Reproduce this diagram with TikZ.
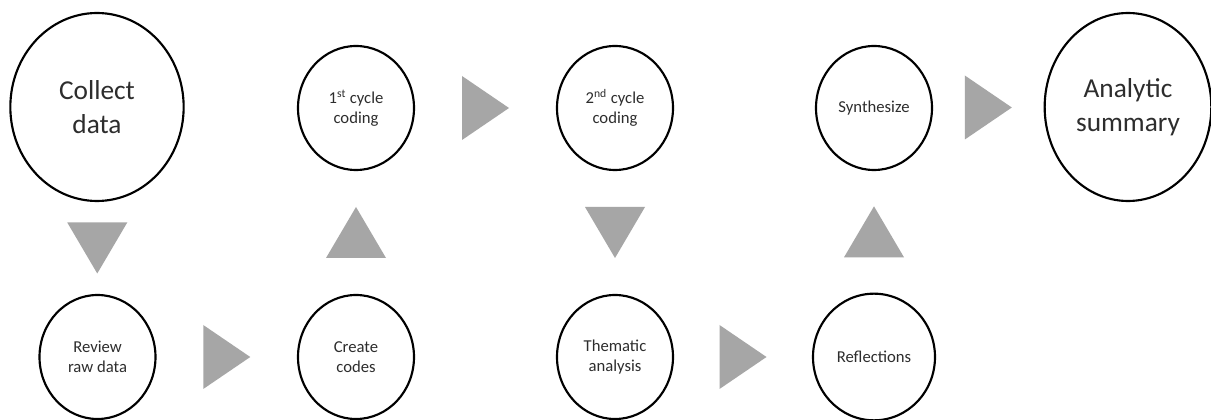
\documentclass[tikz,border=0pt]{standalone}
\usepackage{fontspec}
\setmainfont{Carlito}
\usetikzlibrary{shapes.geometric,calc}
\definecolor{arrowgray}{RGB}{166,166,166}
\definecolor{textgray}{RGB}{45,45,45}

\begin{document}
\begin{tikzpicture}[x=0.75pt, y=-0.75pt,
  stage/.style={ellipse, draw=black, line width=1.6pt, inner sep=0pt,
    align=center, text=textgray, minimum width=87pt, minimum height=93pt,
    font=\fontsize{12.5}{15}\selectfont},
  bigstage/.style={stage, minimum width=128pt, minimum height=141pt,
    font=\fontsize{20.5}{25.5}\selectfont}]

  % Canvas
  \fill[white] (0, 0) rectangle (1211, 420);
  \useasboundingbox (0, 0) rectangle (1211, 420);

  % Top row
  \node[bigstage, minimum width=130pt] (collect) at (97, 107) {Collect\\data};
  \node[stage] (first) at (356, 108) {1\textsuperscript{st} cycle\\coding};
  \node[stage] (second) at (615, 108) {2\textsuperscript{nd} cycle\\coding};
  \node[stage] (synth) at (874, 108) {Synthesize};
  \node[bigstage, minimum width=125pt] (analytic) at (1128, 107) {Analytic\\summary};

  % Bottom row
  \node[stage] (review) at (97.5, 357) {Review\\raw data};
  \node[stage] (create) at (356, 357) {Create\\codes};
  \node[stage] (thematic) at (615, 357) {Thematic\\analysis};
  \node[stage, minimum width=91.5pt, minimum height=95pt] (reflect) at (874, 357)
    {Reflections};

  % Block arrows (length/base in px)
  \foreach \a/\sa/\b/\sb/\ang/\l/\w in {
    collect/south/review/north/-90/51/60,
    review/east/create/west/0/47/64,
    create/north/first/south/90/51/60,
    first/east/second/west/0/47/64,
    second/south/thematic/north/-90/51/60,
    thematic/east/reflect/west/0/47/64,
    reflect/north/synth/south/90/51/60,
    synth/east/analytic/west/0/47/64} {
    \begin{scope}[shift={($(\a.\sa)!0.5!(\b.\sb)$)}, rotate=\ang]
      \fill[arrowgray] (\l/2, 0) -- (-\l/2, \w/2) -- (-\l/2, -\w/2) -- cycle;
    \end{scope}
  }
\end{tikzpicture}
\end{document}
